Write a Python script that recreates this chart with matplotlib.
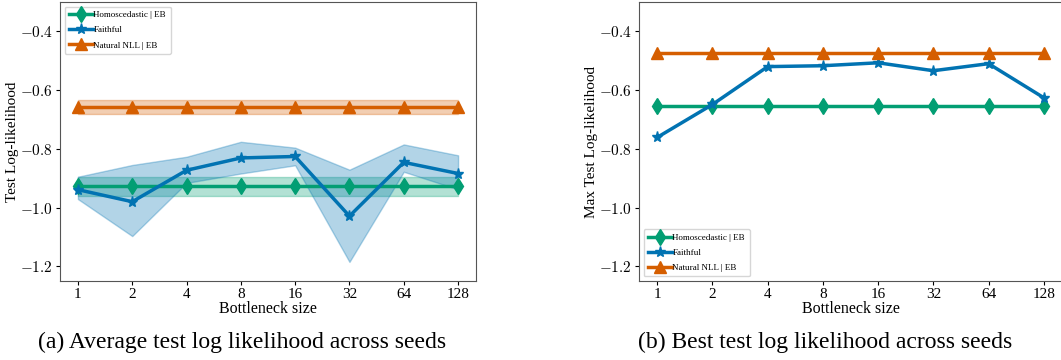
import numpy as np
import matplotlib
matplotlib.use("Agg")
import matplotlib.pyplot as plt

plt.rcParams['font.family'] = ['Liberation Serif', 'DejaVu Serif']
plt.rcParams['mathtext.fontset'] = 'cm'
plt.rcParams['axes.unicode_minus'] = True

bottleneck = ['1', '2', '4', '8', '16', '32', '64', '128']

# (a) average across seeds
homo_mean = [-0.927] * 8
homo_lo = [-0.960] * 8
homo_hi = [-0.896] * 8
faith_mean = [-0.939, -0.980, -0.873, -0.831, -0.826, -1.029, -0.846, -0.884]
faith_lo = [-0.971, -1.097, -0.916, -0.884, -0.856, -1.185, -0.878, -0.938]
faith_hi = [-0.895, -0.855, -0.827, -0.776, -0.796, -0.871, -0.785, -0.822]
nat_mean = [-0.658] * 8
nat_lo = [-0.683] * 8
nat_hi = [-0.635] * 8

# (b) best across seeds
homo_best = [-0.653] * 8
faith_best = [-0.761, -0.649, -0.520, -0.517, -0.507, -0.534, -0.510, -0.626]
nat_best = [-0.472] * 8

GREEN = '#029e73'
BLUE = '#0173b2'
ORANGE = '#d55e00'

W, H = 1061, 360
fig = plt.figure(figsize=(W / 100, H / 100), dpi=100)
ax1 = fig.add_axes([60 / W, 1 - 281 / H, 416 / W, 279 / H])
ax2 = fig.add_axes([639 / W, 1 - 281 / H, 423 / W, 279 / H])

x = np.arange(len(bottleneck))
series = [
    ('Homoscedastic | EB', GREEN, 'd', 8),
    ('Faithful', BLUE, '*', 8),
    ('Natural NLL | EB', ORANGE, '^', 8),
]

# left panel: means with bands
ax1.fill_between(x, homo_lo, homo_hi, color=GREEN, alpha=0.3)
ax1.fill_between(x, faith_lo, faith_hi, color=BLUE, alpha=0.3)
ax1.fill_between(x, nat_lo, nat_hi, color=ORANGE, alpha=0.3)
for (lab, c, m, ms), y in zip(series, [homo_mean, faith_mean, nat_mean]):
    ax1.plot(x, y, color=c, marker=m, markersize=ms, linewidth=2.5, label=lab)
ax1.set_ylabel('Test Log-likelihood', fontsize=11, labelpad=1)
ax1.legend(loc='upper left', fontsize=6.5, handlelength=2.6, handletextpad=0.1,
           borderpad=0.5, labelspacing=0.75, framealpha=0.8)

# right panel: best
for (lab, c, m, ms), y in zip(series, [homo_best, faith_best, nat_best]):
    ax2.plot(x, y, color=c, marker=m, markersize=ms, linewidth=2.5, label=lab)
ax2.set_ylabel('Max Test Log-likelihood', fontsize=11, labelpad=1)
ax2.legend(loc='lower left', fontsize=6.5, handlelength=2.6, handletextpad=0.1,
           borderpad=0.5, labelspacing=0.75, framealpha=0.8)

for ax in (ax1, ax2):
    ax.set_xticks(x)
    ax.set_xticklabels(bottleneck)
    ax.set_xlim(-0.33, 7.33)
    ax.set_ylim(-1.25, -0.30)
    ax.set_yticks([-1.2, -1.0, -0.8, -0.6, -0.4])
    ax.set_yticklabels(['$-1.2$', '$-1.0$', '$-0.8$', '$-0.6$', '$-0.4$'])
    ax.tick_params(labelsize=11, length=3, pad=2)
    ax.set_xlabel('Bottleneck size', fontsize=11.5, labelpad=0)
    for s in ax.spines.values():
        s.set_color('#555555')

fig.text(242 / W, 1 - 342 / H, '(a) Average test log likelihood across seeds',
         ha='center', va='center', fontsize=17)
fig.text(825 / W, 1 - 342 / H, '(b) Best test log likelihood across seeds',
         ha='center', va='center', fontsize=17)

fig.savefig('out.png', dpi=100)
